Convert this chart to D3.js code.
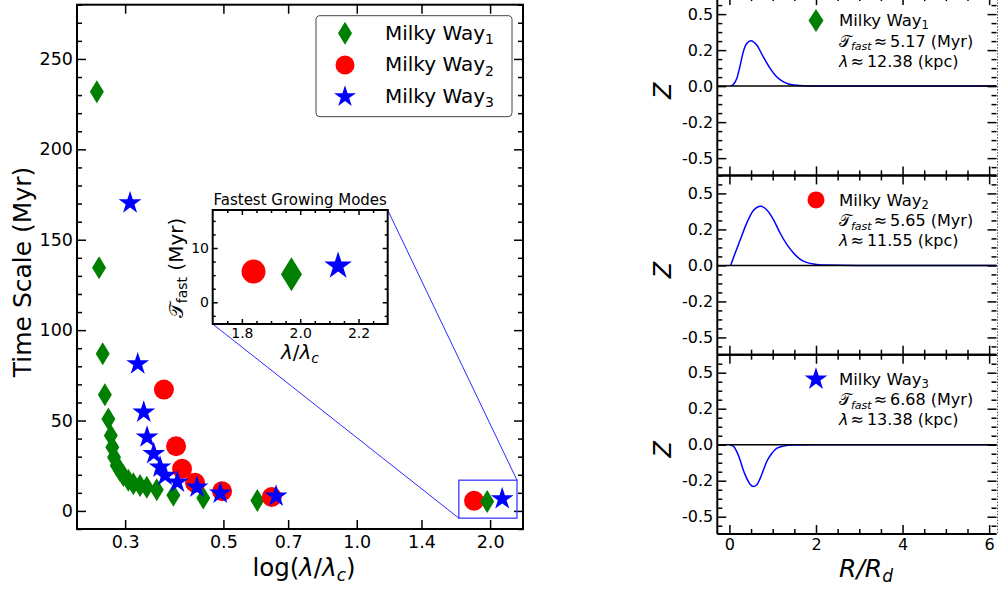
<!DOCTYPE html>
<html><head><meta charset="utf-8">
<script src="https://cdn.jsdelivr.net/npm/d3@7"></script>
<style>body{margin:0;background:#fff} text{font-family:"DejaVu Sans",sans-serif;fill:#000}</style>
</head><body><svg id="c" width="999" height="589"></svg>
<script>
// ---------------- data ----------------
const seriesNames = ["Milky Way", "Milky Way", "Milky Way"];
const seriesSubs = ["1", "2", "3"];
const mw1X = [0.259,0.262,0.267,0.270,0.275,0.2785,0.2807,0.2832,0.2872,0.2921,0.2972,0.305,0.3131,0.3242,0.3357,0.3536,0.3855,0.4504,0.5965];
const mw1Y = [231.8,134.5,86.9,64.2,50.9,41.7,35.2,29.7,25.1,22.4,19.6,16.9,15.0,14.1,13.1,11.7,8.6,7.2,5.8];
const mw2X = [0.367,0.391,0.4033,0.4315,0.4966,0.6428];
const mw2Y = [67.1,35.8,23.3,15.6,10.9,7.7];
const mw3X = [0.3078,0.3203,0.3305,0.3362,0.3481,0.3597,0.3693,0.3936,0.4359,0.4920,0.6575];
const mw3Y = [170.3,81.3,54.6,40.8,31.6,24.2,19.6,15.9,13.1,9.8,8.1];
const fastX = [1.97, 1.84, 2.13];        // λ/λc of fastest mode, MW1..3
const fastT = [5.17, 5.65, 6.68];        // T_fast (Myr)
const fastLambda = ["12.38", "11.55", "13.38"]; // kpc
const fastTLabel = ["5.17", "5.65", "6.68"];
const mainXTicks = [0.3, 0.5, 0.7, 1.0, 1.4, 2.0];
const mainYTicks = [0, 50, 100, 150, 200, 250];
const insetXTicks = [1.8, 2.0, 2.2];
const insetYTicks = [0, 10];
const zTickVals = [-0.5, -0.25, 0, 0.25, 0.5];
const zTickLabels = ["-0.5", "-0.2", "0.0", "0.2", "0.5"];
const rTicks = [0, 2, 4, 6];
// eigenfunction profiles Z(R/Rd)
const prof1R = [0.03,0.1,0.17,0.25,0.32,0.4,0.5,0.63,0.78,0.94,1.09,1.25,1.48,1.8,2.5,4,6.2];
const prof1Z = [0,0.015,0.053,0.146,0.238,0.296,0.315,0.285,0.204,0.123,0.065,0.03,0.007,0.001,0,0,0];
const prof2R = [0.03,0.09,0.25,0.4,0.555,0.725,0.86,1.02,1.17,1.33,1.48,1.63,1.78,2.02,2.25,3,4.5,6.2];
const prof2Z = [0,0.051,0.178,0.294,0.382,0.41,0.387,0.317,0.225,0.144,0.086,0.044,0.021,0.007,0.002,0,0,0];
const prof3R = [0,0.09,0.17,0.247,0.32,0.40,0.478,0.555,0.63,0.71,0.785,0.86,0.98,1.09,1.25,1.48,2,4,6.2];
const prof3Z = [0,-0.009,-0.048,-0.106,-0.176,-0.234,-0.275,-0.291,-0.28,-0.234,-0.176,-0.118,-0.06,-0.025,-0.009,-0.002,0,0,0];

// ---------------- helpers ----------------
const svg = d3.select("#c");
const GREEN = "#008000", RED = "#ff0000", BLUE = "#0000ff";
const FONT = "DejaVu Sans";
function diamondPath(w, h) { return `M0,${-h/2}L${w/2},0L0,${h/2}L${-w/2},0Z`; }
function starPath(R) {
  const p = [];
  for (let k = 0; k < 10; k++) {
    const r = k % 2 ? R * 0.382 : R;
    const a = -Math.PI / 2 + k * Math.PI / 5;
    p.push([r * Math.cos(a), r * Math.sin(a)]);
  }
  return "M" + p.map(q => q.map(v => v.toFixed(2)).join(",")).join("L") + "Z";
}
const SIZES = {
  main:   {dw: 14, dh: 23, cr: 10,  sr: 12},
  legend: {dw: 14, dh: 23, cr: 9.5, sr: 11.5},
  inset:  {dw: 21, dh: 34, cr: 12,  sr: 14.5},
  right:  {dw: 15, dh: 23, cr: 8.5, sr: 12}
};
function marker(g, kind, x, y, ctx) {
  const s = SIZES[ctx];
  if (kind === 0) g.append("path").attr("d", diamondPath(s.dw, s.dh)).attr("transform", `translate(${x},${y})`).attr("fill", GREEN);
  else if (kind === 1) g.append("circle").attr("cx", x).attr("cy", y).attr("r", s.cr).attr("fill", RED);
  else g.append("path").attr("d", starPath(s.sr)).attr("transform", `translate(${x},${y})`).attr("fill", BLUE);
}
function styleAxis(g, fs) {
  g.attr("font-family", FONT).attr("font-size", fs || 10);
  g.select(".domain").remove();
  g.selectAll(".tick line").attr("stroke", "#000").attr("stroke-width", 1.5);
  g.selectAll(".tick text").attr("fill", "#000");
  return g;
}
function minorVals(lo, hi, step, majors) {
  const out = [];
  for (let v = Math.ceil(lo / step - 1e-9) * step; v <= hi + 1e-9; v += step) {
    if (!majors.some(m => Math.abs(m - v) < 1e-9)) out.push(+v.toFixed(6));
  }
  return out;
}

// ---------------- main panel ----------------
const mL = 77, mR = 523, mT = 4.7, mB = 529;
const xM = d3.scaleLog().domain([0.2336, 2.373]).range([mL, mR]);
const yM = d3.scaleLinear().domain([-10, 280]).range([mB, mT]);
const main = svg.append("g");

const yMinor = minorVals(-10, 280, 10, mainYTicks);
styleAxis(main.append("g").attr("transform", `translate(0,${mB})`)
  .call(d3.axisBottom(xM).tickValues(mainXTicks).tickFormat(d3.format(".1f")).tickSize(-9).tickPadding(6.5)), "17.5px");
styleAxis(main.append("g").attr("transform", `translate(0,${mT})`)
  .call(d3.axisTop(xM).tickValues(mainXTicks).tickFormat("").tickSize(-9)));
styleAxis(main.append("g").attr("transform", `translate(${mL},0)`)
  .call(d3.axisLeft(yM).tickValues(mainYTicks).tickSize(-9).tickPadding(4)), "17.5px");
styleAxis(main.append("g").attr("transform", `translate(${mL},0)`)
  .call(d3.axisLeft(yM).tickValues(yMinor).tickFormat("").tickSize(-5)));
styleAxis(main.append("g").attr("transform", `translate(${mR},0)`)
  .call(d3.axisRight(yM).tickValues(mainYTicks).tickFormat("").tickSize(-9)));
styleAxis(main.append("g").attr("transform", `translate(${mR},0)`)
  .call(d3.axisRight(yM).tickValues(yMinor).tickFormat("").tickSize(-5)));

const pts = main.append("g");
mw1X.forEach((x, i) => marker(pts, 0, xM(x), yM(mw1Y[i]), "main"));
mw2X.forEach((x, i) => marker(pts, 1, xM(x), yM(mw2Y[i]), "main"));
mw3X.forEach((x, i) => marker(pts, 2, xM(x), yM(mw3Y[i]), "main"));
[1, 0, 2].forEach(k => marker(pts, k, xM(fastX[k]), yM(fastT[k]), "main"));

main.append("rect").attr("x", mL).attr("y", mT).attr("width", mR - mL).attr("height", mB - mT)
  .attr("fill", "none").attr("stroke", "#000").attr("stroke-width", 2);

// labels
main.append("text").attr("transform", `translate(31,272) rotate(-90)`).attr("text-anchor", "middle")
  .attr("font-size", "25px").text("Time Scale (Myr)");
const xl = main.append("text").attr("x", 304).attr("y", 576).attr("text-anchor", "middle").attr("font-size", "24.5px");
xl.append("tspan").text("log(");
xl.append("tspan").attr("font-style", "italic").text("λ");
xl.append("tspan").text("/");
xl.append("tspan").attr("font-style", "italic").text("λ");
xl.append("tspan").attr("font-style", "italic").attr("font-size", "17px").attr("dy", 5).text("c");
xl.append("tspan").attr("dy", -5).text(")");

// legend
const lg = main.append("g");
lg.append("rect").attr("x", 316).attr("y", 15.7).attr("width", 196).attr("height", 101).attr("rx", 4)
  .attr("fill", "#fff").attr("stroke", "#444").attr("stroke-width", 1);
[0, 1, 2].forEach(k => {
  const cy = 33.3 + k * 31.7;
  marker(lg, k, 345, cy, "legend");
  const t = lg.append("text").attr("x", 385).attr("y", cy + 6.2).attr("font-size", "20px");
  t.append("tspan").text(seriesNames[k]);
  t.append("tspan").attr("font-size", "14px").attr("dy", 4.5).text(seriesSubs[k]);
});

// zoom rectangle & inset
const iL = 212.7, iR = 387.7, iT = 210, iB = 324;
const ix = d3.scaleLinear().domain([1.7, 2.3]).range([iL, iR]);
const iy = d3.scaleLinear().domain([-4, 17]).range([iB, iT]);
const zx0 = xM(1.7), zx1 = xM(2.3), zy0 = yM(17), zy1 = yM(-4);
main.append("rect").attr("x", zx0).attr("y", zy0).attr("width", zx1 - zx0).attr("height", zy1 - zy0)
  .attr("fill", "none").attr("stroke", "#3b3bff").attr("stroke-width", 1.3);
main.append("line").attr("x1", iL).attr("y1", iB).attr("x2", zx0).attr("y2", zy1).attr("stroke", "#2b2bff").attr("stroke-width", 1);
main.append("line").attr("x1", iR).attr("y1", iT).attr("x2", zx1).attr("y2", zy0).attr("stroke", "#2b2bff").attr("stroke-width", 1);

const inset = svg.append("g");
inset.append("rect").attr("x", iL).attr("y", iT).attr("width", iR - iL).attr("height", iB - iT).attr("fill", "#fff");
const ixMinor = minorVals(1.7, 2.3, 0.05, insetXTicks).filter(v => v > 1.701 && v < 2.299);
const iyMinor = minorVals(-4, 17, 2.5, insetYTicks);
styleAxis(inset.append("g").attr("transform", `translate(0,${iB})`)
  .call(d3.axisBottom(ix).tickValues(insetXTicks).tickFormat(d3.format(".1f")).tickSize(-5).tickPadding(4)), "14px");
styleAxis(inset.append("g").attr("transform", `translate(0,${iB})`)
  .call(d3.axisBottom(ix).tickValues(ixMinor).tickFormat("").tickSize(-3)));
styleAxis(inset.append("g").attr("transform", `translate(0,${iT})`)
  .call(d3.axisTop(ix).tickValues(insetXTicks).tickFormat("").tickSize(-5)));
styleAxis(inset.append("g").attr("transform", `translate(0,${iT})`)
  .call(d3.axisTop(ix).tickValues(ixMinor).tickFormat("").tickSize(-3)));
styleAxis(inset.append("g").attr("transform", `translate(${iL},0)`)
  .call(d3.axisLeft(iy).tickValues(insetYTicks).tickSize(-5).tickPadding(3.7)), "14px");
styleAxis(inset.append("g").attr("transform", `translate(${iL},0)`)
  .call(d3.axisLeft(iy).tickValues(iyMinor).tickFormat("").tickSize(-3)));
styleAxis(inset.append("g").attr("transform", `translate(${iR},0)`)
  .call(d3.axisRight(iy).tickValues(insetYTicks).tickFormat("").tickSize(-5)));
styleAxis(inset.append("g").attr("transform", `translate(${iR},0)`)
  .call(d3.axisRight(iy).tickValues(iyMinor).tickFormat("").tickSize(-3)));
[1, 0, 2].forEach(k => marker(inset, k, ix(fastX[k]), iy(fastT[k]), "inset"));
inset.append("rect").attr("x", iL).attr("y", iT).attr("width", iR - iL).attr("height", iB - iT)
  .attr("fill", "none").attr("stroke", "#000").attr("stroke-width", 2);
inset.append("text").attr("x", (iL + iR) / 2).attr("y", 205).attr("text-anchor", "middle").attr("font-size", "15px")
  .text("Fastest Growing Modes");
const ixl = inset.append("text").attr("x", 300).attr("y", 359).attr("text-anchor", "middle").attr("font-size", "20px");
ixl.append("tspan").attr("font-style", "italic").text("λ");
ixl.append("tspan").text("/");
ixl.append("tspan").attr("font-style", "italic").text("λ");
ixl.append("tspan").attr("font-style", "italic").attr("font-size", "14px").attr("dy", 4).text("c");
const iyl = inset.append("text").attr("transform", `translate(183,268) rotate(-90)`).attr("text-anchor", "middle").attr("font-size", "20px");
iyl.append("tspan").text("𝒯");
iyl.append("tspan").attr("font-size", "14px").attr("dy", 4).text("fast");
iyl.append("tspan").attr("dy", -4).text(" (Myr)");

// ---------------- right panels ----------------
const pL = 717.3, pR = 996.5, pH = 179.3;
const rx = d3.scaleLinear().domain([-0.28, 6.17]).range([pL, pR]);
const rMinor = minorVals(-0.28, 6.17, 0.5, rTicks);
const zMinor = minorVals(-0.62, 0.625, 0.0625, zTickVals);
const profiles = [[prof1R, prof1Z], [prof2R, prof2Z], [prof3R, prof3Z]];
const defs = svg.append("defs");
for (let i = 0; i < 3; i++) {
  const top = -3.9 + i * pH, bot = top + pH;
  const ry = d3.scaleLinear().domain([-0.62, 0.625]).range([bot, top]);
  const g = svg.append("g");
  defs.append("clipPath").attr("id", "cp" + i).append("rect").attr("x", pL).attr("y", top).attr("width", pR - pL).attr("height", pH);
  const [R, Z] = profiles[i];
  const line = d3.line().x((d, j) => rx(R[j])).y((d, j) => ry(Z[j])).curve(d3.curveMonotoneX);
  g.append("path").attr("clip-path", `url(#cp${i})`).attr("d", line(R)).attr("fill", "none").attr("stroke", BLUE).attr("stroke-width", 1.5);
  g.append("line").attr("x1", pL).attr("x2", pR).attr("y1", ry(0)).attr("y2", ry(0)).attr("stroke", "#000").attr("stroke-width", 1.5);

  styleAxis(g.append("g").attr("transform", `translate(${pL},0)`)
    .call(d3.axisLeft(ry).tickValues(zTickVals).tickFormat((d, j) => zTickLabels[j]).tickSize(-9).tickPadding(4)), "16px");
  styleAxis(g.append("g").attr("transform", `translate(${pL},0)`)
    .call(d3.axisLeft(ry).tickValues(zMinor).tickFormat("").tickSize(-5)));
  styleAxis(g.append("g").attr("transform", `translate(${pR},0)`)
    .call(d3.axisRight(ry).tickValues(zTickVals).tickFormat("").tickSize(-9)));
  styleAxis(g.append("g").attr("transform", `translate(${pR},0)`)
    .call(d3.axisRight(ry).tickValues(zMinor).tickFormat("").tickSize(-5)));
  styleAxis(g.append("g").attr("transform", `translate(0,${bot})`)
    .call(d3.axisBottom(rx).tickValues(rTicks).tickFormat(i === 2 ? d3.format("d") : "").tickSize(-9).tickPadding(4.6)), "16px");
  styleAxis(g.append("g").attr("transform", `translate(0,${bot})`)
    .call(d3.axisBottom(rx).tickValues(rMinor).tickFormat("").tickSize(-5)));
  styleAxis(g.append("g").attr("transform", `translate(0,${top})`)
    .call(d3.axisTop(rx).tickValues(rTicks).tickFormat("").tickSize(-9)));
  styleAxis(g.append("g").attr("transform", `translate(0,${top})`)
    .call(d3.axisTop(rx).tickValues(rMinor).tickFormat("").tickSize(-5)));

  g.append("line").attr("x1", pL).attr("x2", pL).attr("y1", top).attr("y2", bot).attr("stroke", "#000").attr("stroke-width", 2);
  g.append("line").attr("x1", pL).attr("x2", pR).attr("y1", top).attr("y2", top).attr("stroke", "#000").attr("stroke-width", 2);
  g.append("line").attr("x1", pL).attr("x2", pR).attr("y1", bot).attr("y2", bot).attr("stroke", "#000").attr("stroke-width", 2);
  g.append("line").attr("x1", pR + 1).attr("x2", pR + 1).attr("y1", top).attr("y2", bot).attr("stroke", "#555")
    .attr("stroke-width", 1).attr("stroke-dasharray", "1.5,1.5");

  // y label
  g.append("text").attr("transform", `translate(671,${(top + bot) / 2 + 5}) rotate(-90)`).attr("text-anchor", "middle")
    .attr("font-size", "24px").attr("font-style", "italic").text("Z");

  // annotation
  const mx = rx(2), my = ry(0.455);
  marker(g, i, mx, my, "right");
  const tx = 839;
  const t1 = g.append("text").attr("x", tx).attr("y", my + 5.8).attr("font-size", "16.5px");
  t1.append("tspan").text(seriesNames[i]);
  t1.append("tspan").attr("font-size", "11.5px").attr("dy", 3).text(seriesSubs[i]);
  const t2 = g.append("text").attr("x", tx).attr("y", my + 26.3).attr("font-size", "16px");
  t2.append("tspan").text("𝒯");
  t2.append("tspan").attr("font-size", "11px").attr("font-style", "italic").attr("dy", 3.5).text("fast");
  t2.append("tspan").attr("dy", -3.5).attr("dx", 2).text("≈");
  t2.append("tspan").attr("dx", 3).text(fastTLabel[i] + " (Myr)");
  const t3 = g.append("text").attr("x", tx).attr("y", my + 46.3).attr("font-size", "16px");
  t3.append("tspan").attr("font-style", "italic").text("λ");
  t3.append("tspan").attr("dx", 2).text("≈");
  t3.append("tspan").attr("dx", 3).text(fastLambda[i] + " (kpc)");
}
// x label for right panels
const rxl = svg.append("text").attr("x", 866).attr("y", 577).attr("text-anchor", "middle").attr("font-size", "25px").attr("font-style", "italic");
rxl.append("tspan").text("R/R");
rxl.append("tspan").attr("font-size", "17px").attr("dy", 5).text("d");
</script></body></html>
